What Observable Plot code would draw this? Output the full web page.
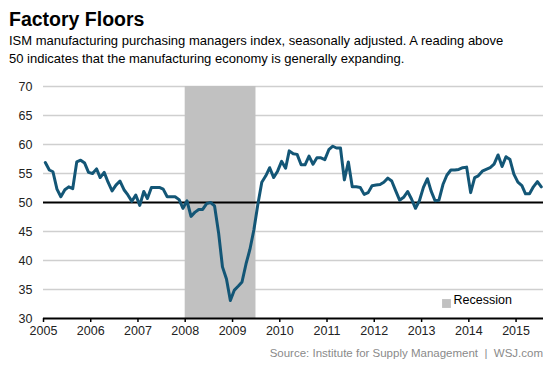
<!DOCTYPE html>
<html><head><meta charset="utf-8">
<script src="https://cdn.jsdelivr.net/npm/d3@7"></script>
<script src="https://cdn.jsdelivr.net/npm/@observablehq/plot@0.6"></script>
<style>
body{margin:0;background:#fff;font-family:"Liberation Sans",Arial,Helvetica,sans-serif;}
#wrap{position:relative;width:553px;height:369px;overflow:hidden;background:#fff;}
#title{position:absolute;left:9px;top:7.5px;font-size:19.5px;line-height:22px;font-weight:bold;color:#000;white-space:nowrap;}
#sub{position:absolute;left:9px;top:32px;font-size:13px;line-height:18px;color:#000;white-space:nowrap;}
#chart{position:absolute;left:0;top:70px;}
#source{position:absolute;right:10px;top:346px;font-size:11.5px;line-height:14px;color:#8a8a8a;white-space:nowrap;}
</style></head>
<body><div id="wrap">
<div id="title"></div>
<div id="sub"></div>
<div id="chart"></div>
<div id="source"></div>
</div>
<script>
const titleText = "Factory Floors";
const subtitleLines = ["ISM manufacturing purchasing managers index, seasonally adjusted. A reading above", "50 indicates that the manufacturing economy is generally expanding."];
const sourceText = "Source: Institute for Supply Management\u00a0 |\u00a0 WSJ.com";
const legendLabel = "Recession";

// Monthly PMI readings, January 2005 onward
const startMonth = "2005-01";
const pmi = [
  56.9, 55.6, 55.3, 52.3, 51.0, 52.2, 52.7, 52.4, 57.0, 57.3, 56.8, 55.2,
  55.0, 55.8, 54.3, 55.2, 53.5, 52.0, 53.0, 53.7, 52.2, 51.3, 50.2, 51.3,
  49.5, 51.9, 50.7, 52.6, 52.6, 52.6, 52.3, 51.0, 51.0, 51.0, 50.5, 49.0,
  50.3, 47.6, 48.3, 48.8, 48.8, 49.8, 50.0, 49.4, 44.8, 38.9, 36.8, 33.1,
  34.9, 35.6, 36.3, 39.4, 41.9, 45.3, 49.6, 53.5, 54.6, 56.0, 54.3, 55.4,
  57.1, 55.9, 58.9, 58.4, 58.3, 56.5, 56.5, 58.0, 56.6, 57.7, 57.7, 57.4,
  59.1, 59.7, 59.4, 59.4, 53.9, 57.0, 52.7, 52.7, 52.6, 51.4, 51.7, 52.9,
  53.0, 53.1, 53.5, 54.2, 53.7, 52.0, 50.4, 50.9, 51.9, 50.6, 49.0, 50.3,
  52.6, 54.1, 52.0, 50.3, 50.4, 53.1, 54.7, 55.6, 55.6, 55.7, 56.0, 56.1,
  51.7, 54.3, 54.6, 55.4, 55.7, 56.0, 56.6, 58.2, 56.2, 57.9, 57.4, 54.9,
  53.5, 52.9, 51.5, 51.5, 52.7, 53.6, 52.7
];
const recessionStart = "2008-01-01";
const recessionEnd = "2009-07-01";
const yearTicks = [2005, 2006, 2007, 2008, 2009, 2010, 2011, 2012, 2013, 2014, 2015];
const valueTicks = [30, 35, 40, 45, 50, 55, 60, 65, 70];
const referenceLevel = 50;
const xStart = "2005-01-01";
const xEnd = "2015-08-01";

document.getElementById("title").textContent = titleText;
document.getElementById("sub").innerHTML = subtitleLines.join("<br>");
document.getElementById("source").textContent = sourceText;

const start = d3.utcParse("%Y-%m")(startMonth);
const data = pmi.map((v, i) => ({date: d3.utcDay.offset(d3.utcMonth.offset(start, i), 14), value: v}));
const recession = [{start: new Date(recessionStart), end: new Date(recessionEnd)}];
const xTickDates = yearTicks.map(y => new Date(Date.UTC(y, 0, 1)));
const gridValues = valueTicks.filter(t => t !== valueTicks[0] && t !== referenceLevel);
const yMin = valueTicks[0], yMax = valueTicks[valueTicks.length - 1];

const chart = Plot.plot({
  width: 553, height: 275,
  marginTop: 16, marginBottom: 27, marginLeft: 43, marginRight: 10,
  style: {fontFamily: '"Liberation Sans", Arial, Helvetica, sans-serif', fontSize: "12.5px", color: "#222", background: "transparent"},
  x: {type: "utc", domain: [new Date(xStart), new Date(xEnd)], label: null},
  y: {domain: [yMin, yMax], label: null},
  marks: [
    Plot.gridY(gridValues, {stroke: "#cfcfcf", strokeOpacity: 1, strokeWidth: 1.6}),
    Plot.rect(recession, {x1: "start", x2: "end", y1: yMin, y2: yMax, fill: "#c1c1c1"}),
    Plot.ruleY([referenceLevel], {stroke: "#000", strokeWidth: 2}),
    Plot.line(data, {x: "date", y: "value", stroke: "#135676", strokeWidth: 3, strokeLinejoin: "round"}),
    Plot.ruleY([yMin], {stroke: "#000", strokeWidth: 2}),
    Plot.axisY(valueTicks, {tickSize: 0, tickPadding: 11, fontSize: 12.5, fill: "#222", label: null}),
    Plot.axisX(xTickDates, {tickSize: 4, tickPadding: 4, tickFormat: "%Y", fontSize: 12.5, fill: "#222", stroke: "#000", strokeWidth: 1.5, label: null}),
    Plot.dot([legendLabel], {frameAnchor: "bottom-right", dx: -97, dy: -15, symbol: "square", r: 5, fill: "#c1c1c1", stroke: null}),
    Plot.text([legendLabel], {text: d => d, frameAnchor: "bottom-right", dx: -90, dy: -15, textAnchor: "start", fontSize: 12.5, fill: "#000"})
  ]
});
document.getElementById("chart").appendChild(chart);
</script>
</body></html>
